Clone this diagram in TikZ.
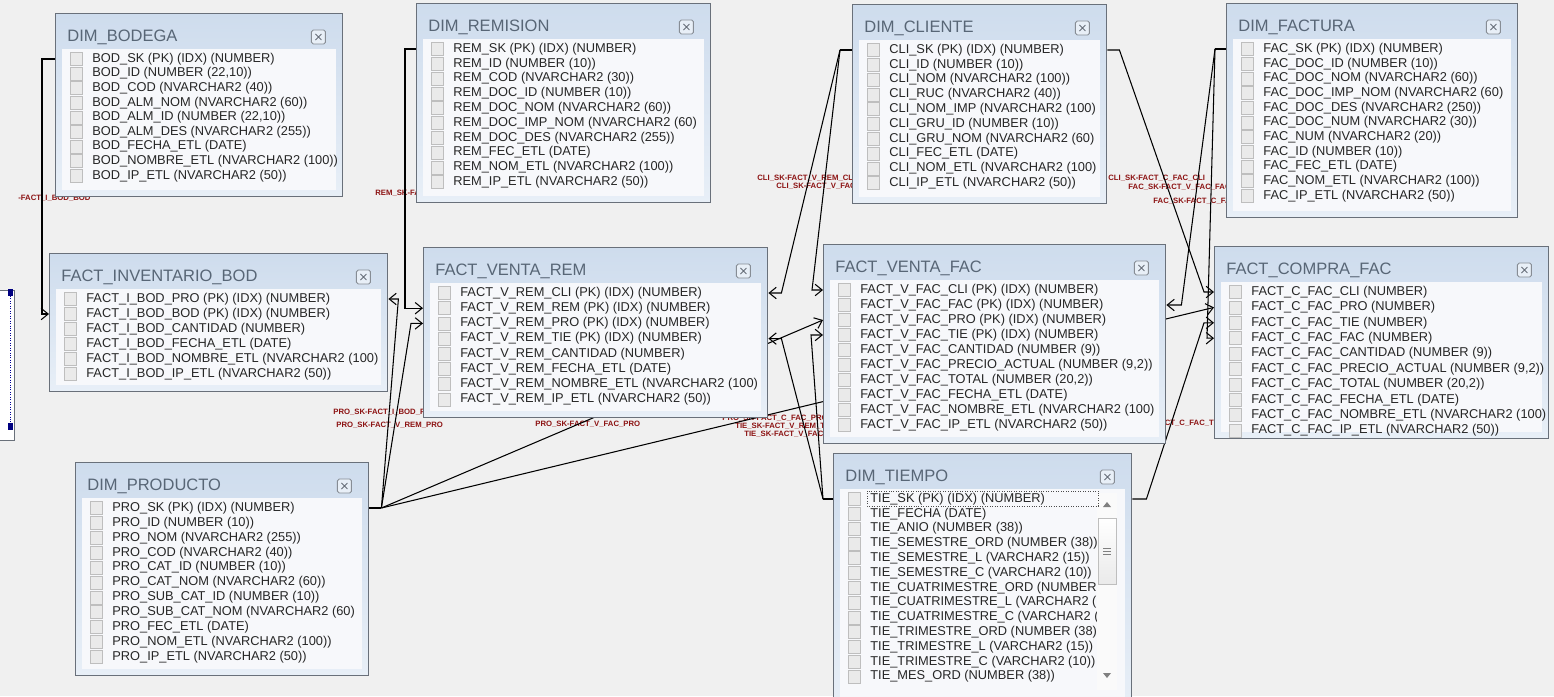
\documentclass[tikz,border=0pt]{standalone}
\usepackage{fontspec}
\setmainfont{Liberation Sans}
\usetikzlibrary{arrows.meta, calc}

\definecolor{bgclr}{RGB}{240,240,240}
\definecolor{frameclr}{RGB}{105,112,122}
\definecolor{headtop}{RGB}{206,220,237}
\definecolor{headbot}{RGB}{232,239,247}
\definecolor{panelclr}{RGB}{247,248,251}
\definecolor{titleclr}{RGB}{88,102,118}
\definecolor{chkfill}{RGB}{234,234,234}
\definecolor{chkline}{RGB}{190,190,190}
\definecolor{fkred}{RGB}{140,18,18}

\pgfdeclarelayer{bottom}
\pgfdeclarelayer{background}
\pgfsetlayers{bottom,background,main}

\tikzset{
  erframe/.style={draw=frameclr, line width=0.8pt, top color=headtop, bottom color=headbot,
    anchor=north west, inner sep=0pt},
  ertitle/.style={anchor=west, inner sep=0pt, font=\fontsize{9.4}{10}\selectfont, text=titleclr},
  errow/.style={anchor=west, inner sep=0pt, font=\fontsize{7.3}{8}\selectfont, text=black!85},
  chk/.style={draw=chkline, fill=chkfill, line width=0.4pt},
  closeicon/.style={draw=frameclr!80, fill=headbot, line width=0.5pt, rounded corners=1pt},
  fk/.style={draw=black, line width=0.6pt, -{Straight Barb[length=4pt,width=6.5pt]}},
  fkline/.style={draw=black, line width=0.6pt},
  fklabel/.style={anchor=west, inner sep=0pt, font=\fontsize{4.4}{5}\selectfont\bfseries, text=fkred},
}

% table box: name, x, y, width, height, row step, title, rows
\newcommand{\ertable}[8]{%
  \node[erframe, minimum width=#4*0.02cm, minimum height=#5*0.02cm] (#1) at (#2,#3) {};
  \fill[panelclr] ($(#1.north west)+(7,36)$) rectangle ($(#1.south east)+(-7,-7)$);
  \node[ertitle] (#1-t) at ($(#1.north west)+(12,24)$) {#7};
  \draw[closeicon] ($(#1.north east)+(-32,17)$) rectangle ++(14,14);
  \draw[frameclr, line width=0.5pt] ($(#1.north east)+(-28,21)$) -- ++(6,6)
    ($(#1.north east)+(-22,21)$) -- ++(-6,6);
  \foreach \txt [count=\i] in {#8} {
    \pgfmathsetmacro\ry{46+#6*(\i-1)}
    \pgfmathsetmacro\cy{\ry-6.5}
    \draw[chk] ($(#1.north west)+(15,\cy)$) rectangle ++(12,13);
    \node[errow] (#1-\i) at ($(#1.north west)+(37,\ry)$) {\txt};
  }
}

\begin{document}
\begin{tikzpicture}[x=0.02cm, y=-0.02cm]
  \useasboundingbox (0,0) rectangle (1554,696);
  \clip (0,0) rectangle (1554,696);
  \begin{pgfonlayer}{bottom}
    \fill[bgclr] (0,0) rectangle (1554,696);
  \end{pgfonlayer}

  % dimension tables
  \ertable{bod}{55}{13}{287}{183}{14.6}{DIM\_BODEGA}{%
    {BOD\_SK (PK) (IDX) (NUMBER)},{BOD\_ID (NUMBER (22,10))},{BOD\_COD (NVARCHAR2 (40))},
    {BOD\_ALM\_NOM (NVARCHAR2 (60))},{BOD\_ALM\_ID (NUMBER (22,10))},{BOD\_ALM\_DES (NVARCHAR2 (255))},
    {BOD\_FECHA\_ETL (DATE)},{BOD\_NOMBRE\_ETL (NVARCHAR2 (100))},{BOD\_IP\_ETL (NVARCHAR2 (50))}}
  \ertable{rem}{416}{3}{294}{199}{14.8}{DIM\_REMISION}{%
    {REM\_SK (PK) (IDX) (NUMBER)},{REM\_ID (NUMBER (10))},{REM\_COD (NVARCHAR2 (30))},
    {REM\_DOC\_ID (NUMBER (10))},{REM\_DOC\_NOM (NVARCHAR2 (60))},{REM\_DOC\_IMP\_NOM (NVARCHAR2 (60)},
    {REM\_DOC\_DES (NVARCHAR2 (255))},{REM\_FEC\_ETL (DATE)},{REM\_NOM\_ETL (NVARCHAR2 (100))},
    {REM\_IP\_ETL (NVARCHAR2 (50))}}
  \ertable{cli}{852}{4}{254}{199}{14.8}{DIM\_CLIENTE}{%
    {CLI\_SK (PK) (IDX) (NUMBER)},{CLI\_ID (NUMBER (10))},{CLI\_NOM (NVARCHAR2 (100))},
    {CLI\_RUC (NVARCHAR2 (40))},{CLI\_NOM\_IMP (NVARCHAR2 (100)},{CLI\_GRU\_ID (NUMBER (10))},
    {CLI\_GRU\_NOM (NVARCHAR2 (60)},{CLI\_FEC\_ETL (DATE)},{CLI\_NOM\_ETL (NVARCHAR2 (100)},
    {CLI\_IP\_ETL (NVARCHAR2 (50))}}
  \ertable{fac}{1226}{3}{291}{214}{14.7}{DIM\_FACTURA}{%
    {FAC\_SK (PK) (IDX) (NUMBER)},{FAC\_DOC\_ID (NUMBER (10))},{FAC\_DOC\_NOM (NVARCHAR2 (60))},
    {FAC\_DOC\_IMP\_NOM (NVARCHAR2 (60)},{FAC\_DOC\_DES (NVARCHAR2 (250))},{FAC\_DOC\_NUM (NVARCHAR2 (30))},
    {FAC\_NUM (NVARCHAR2 (20))},{FAC\_ID (NUMBER (10))},{FAC\_FEC\_ETL (DATE)},
    {FAC\_NOM\_ETL (NVARCHAR2 (100))},{FAC\_IP\_ETL (NVARCHAR2 (50))}}
  \ertable{pro}{75}{462}{293}{213}{14.9}{DIM\_PRODUCTO}{%
    {PRO\_SK (PK) (IDX) (NUMBER)},{PRO\_ID (NUMBER (10))},{PRO\_NOM (NVARCHAR2 (255))},
    {PRO\_COD (NVARCHAR2 (40))},{PRO\_CAT\_ID (NUMBER (10))},{PRO\_CAT\_NOM (NVARCHAR2 (60))},
    {PRO\_SUB\_CAT\_ID (NUMBER (10))},{PRO\_SUB\_CAT\_NOM (NVARCHAR2 (60)},{PRO\_FEC\_ETL (DATE)},
    {PRO\_NOM\_ETL (NVARCHAR2 (100))},{PRO\_IP\_ETL (NVARCHAR2 (50))}}
  \ertable{tie}{833}{453}{298}{260}{14.8}{DIM\_TIEMPO}{%
    {TIE\_SK (PK) (IDX) (NUMBER)},{TIE\_FECHA (DATE)},{TIE\_ANIO (NUMBER (38))},
    {TIE\_SEMESTRE\_ORD (NUMBER (38))},{TIE\_SEMESTRE\_L (VARCHAR2 (15))},{TIE\_SEMESTRE\_C (VARCHAR2 (10))},
    {TIE\_CUATRIMESTRE\_ORD (NUMBER},{TIE\_CUATRIMESTRE\_L (VARCHAR2 (},{TIE\_CUATRIMESTRE\_C (VARCHAR2 (},
    {TIE\_TRIMESTRE\_ORD (NUMBER (38)},{TIE\_TRIMESTRE\_L (VARCHAR2 (15))},{TIE\_TRIMESTRE\_C (VARCHAR2 (10))},
    {TIE\_MES\_ORD (NUMBER (38))}}

  % fact tables
  \ertable{finv}{49}{253}{338}{138}{15}{FACT\_INVENTARIO\_BOD}{%
    {FACT\_I\_BOD\_PRO (PK) (IDX) (NUMBER)},{FACT\_I\_BOD\_BOD (PK) (IDX) (NUMBER)},
    {FACT\_I\_BOD\_CANTIDAD (NUMBER)},{FACT\_I\_BOD\_FECHA\_ETL (DATE)},
    {FACT\_I\_BOD\_NOMBRE\_ETL (NVARCHAR2 (100)},{FACT\_I\_BOD\_IP\_ETL (NVARCHAR2 (50))}}
  \ertable{vrem}{423}{247}{344}{170}{15.2}{FACT\_VENTA\_REM}{%
    {FACT\_V\_REM\_CLI (PK) (IDX) (NUMBER)},{FACT\_V\_REM\_REM (PK) (IDX) (NUMBER)},
    {FACT\_V\_REM\_PRO (PK) (IDX) (NUMBER)},{FACT\_V\_REM\_TIE (PK) (IDX) (NUMBER)},
    {FACT\_V\_REM\_CANTIDAD (NUMBER)},{FACT\_V\_REM\_FECHA\_ETL (DATE)},
    {FACT\_V\_REM\_NOMBRE\_ETL (NVARCHAR2 (100)},{FACT\_V\_REM\_IP\_ETL (NVARCHAR2 (50))}}
  \ertable{vfac}{823}{244}{342}{199}{15}{FACT\_VENTA\_FAC}{%
    {FACT\_V\_FAC\_CLI (PK) (IDX) (NUMBER)},{FACT\_V\_FAC\_FAC (PK) (IDX) (NUMBER)},
    {FACT\_V\_FAC\_PRO (PK) (IDX) (NUMBER)},{FACT\_V\_FAC\_TIE (PK) (IDX) (NUMBER)},
    {FACT\_V\_FAC\_CANTIDAD (NUMBER (9))},{FACT\_V\_FAC\_PRECIO\_ACTUAL (NUMBER (9,2))},
    {FACT\_V\_FAC\_TOTAL (NUMBER (20,2))},{FACT\_V\_FAC\_FECHA\_ETL (DATE)},
    {FACT\_V\_FAC\_NOMBRE\_ETL (NVARCHAR2 (100)},{FACT\_V\_FAC\_IP\_ETL (NVARCHAR2 (50))}}
  \ertable{cfac}{1214}{246}{334}{192}{15.4}{FACT\_COMPRA\_FAC}{%
    {FACT\_C\_FAC\_CLI (NUMBER)},{FACT\_C\_FAC\_PRO (NUMBER)},{FACT\_C\_FAC\_TIE (NUMBER)},
    {FACT\_C\_FAC\_FAC (NUMBER)},{FACT\_C\_FAC\_CANTIDAD (NUMBER (9))},
    {FACT\_C\_FAC\_PRECIO\_ACTUAL (NUMBER (9,2))},{FACT\_C\_FAC\_TOTAL (NUMBER (20,2))},
    {FACT\_C\_FAC\_FECHA\_ETL (DATE)},{FACT\_C\_FAC\_NOMBRE\_ETL (NVARCHAR2 (100)},
    {FACT\_C\_FAC\_IP\_ETL (NVARCHAR2 (50))}}

  % scroll bar and focus of DIM_TIEMPO
  \fill[white!96!gray] (1097,493) rectangle (1117,690);
  \draw[chkline, top color=white, bottom color=chkfill] (1098,518) rectangle (1116,584);
  \draw[gray, line width=0.5pt] (1103,548) -- (1111,548) (1103,551) -- (1111,551) (1103,554) -- (1111,554);
  \fill[gray] (1103,507) -- (1111,507) -- (1107,502) -- cycle;
  \fill[gray] (1103,673) -- (1111,673) -- (1107,678) -- cycle;
  \draw[densely dotted, black!70] ($(tie-1.west)+(-3,-8)$) rectangle ($(tie-1.west)+(228,7)$);

  % partly hidden object at the left border
  \draw[frameclr, fill=white] (-5,290) rectangle (14,440);
  \draw[densely dotted, blue!60!black] (10,296) -- (10,430);
  \fill[blue!50!black] (8,289) rectangle (13,296);
  \fill[blue!50!black] (8,423) rectangle (13,430);

  \begin{pgfonlayer}{background}
    % relation labels
    \node[fklabel] (lb-bod) at (18,198) {-FACT\_I\_BOD\_BOD};
    \node[fklabel] (lb-rem) at (375,193) {REM\_SK-FACT\_V\_REM\_REM};
    \node[fklabel] (lb-cli1) at (757,178) {CLI\_SK-FACT\_V\_REM\_CLI};
    \node[fklabel] (lb-cli2) at (776,186) {CLI\_SK-FACT\_V\_FAC\_CLI};
    \node[fklabel] (lb-cli3) at (1108,178) {CLI\_SK-FACT\_C\_FAC\_CLI};
    \node[fklabel] (lb-fac1) at (1128,187) {FAC\_SK-FACT\_V\_FAC\_FAC};
    \node[fklabel] (lb-fac2) at (1153,201) {FAC\_SK-FACT\_C\_FAC\_FAC};
    \node[fklabel] (lb-pro1) at (333,412) {PRO\_SK-FACT\_I\_BOD\_PRO};
    \node[fklabel] (lb-pro2) at (336,425) {PRO\_SK-FACT\_V\_REM\_PRO};
    \node[fklabel] (lb-pro3) at (535,424) {PRO\_SK-FACT\_V\_FAC\_PRO};
    \node[fklabel] (lb-pro4) at (722,418) {PRO\_SK-FACT\_C\_FAC\_PRO};
    \node[fklabel] (lb-tie1) at (735,426) {TIE\_SK-FACT\_V\_REM\_TIE};
    \node[fklabel] (lb-tie2) at (744,434) {TIE\_SK-FACT\_V\_FAC\_TIE};
    \node[fklabel] (lb-tie3) at (1125,423) {TIE\_SK-FACT\_C\_FAC\_TIE};

    % relations
    \draw[fk] (bod.west |- bod-1) -- ++(-13,0) |- (finv.west |- finv-2);
    \draw[fk] (rem.west |- rem-1) -- ++(-11,0) |- (vrem.west |- vrem-2);

    \coordinate (pfan) at ($(pro.east |- pro-1)+(12,0)$);
    \draw[fkline] (pro.east |- pro-1) -- (pfan);
    \draw[fk] (pfan) -- ($(finv.east |- finv-1)+(10,0)$) -- (finv.east |- finv-1);
    \draw[fk] (pfan) -- ($(vrem.west |- vrem-3)+(-12,0)$) -- (vrem.west |- vrem-3);
    \draw[fk] (pfan) -- (vfac.west |- vfac-3);
    \draw[fk] (pfan) -- (cfac.west |- cfac-2);

    \coordinate (cfan) at ($(cli.west |- cli-1)+(-12,0)$);
    \draw[fkline] (cli.west |- cli-1) -- (cfan);
    \draw[fk] (cfan) -- ($(vrem.east |- vrem-1)+(13,0)$) -- (vrem.east |- vrem-1);
    \draw[fk] (cfan) -- ($(vfac.west |- vfac-1)+(-11,0)$) -- (vfac.west |- vfac-1);
    \draw[fk] (cli.east |- cli-1) -- ++(12,0) -- ($(cfac.west |- cfac-1)+(-10,0)$) -- (cfac.west |- cfac-1);

    \coordinate (ffan) at ($(fac.west |- fac-1)+(-11,0)$);
    \draw[fkline] (fac.west |- fac-1) -- (ffan);
    \draw[fk] (ffan) -- ($(vfac.east |- vfac-2)+(15,0)$) -- (vfac.east |- vfac-2);
    \draw[fk] (ffan) -- ($(cfac.west |- cfac-4)+(-7,0)$) -- (cfac.west |- cfac-4);

    \coordinate (tfan) at ($(tie.west |- tie-1)+(-10,0)$);
    \draw[fkline] (tie.west |- tie-1) -- (tfan);
    \draw[fk] (tfan) -- ($(vrem.east |- vrem-4)+(13,0)$) -- (vrem.east |- vrem-4);
    \draw[fk] (tfan) -- ($(vfac.west |- vfac-4)+(-12,0)$) -- (vfac.west |- vfac-4);
    \draw[fk] (tie.east |- tie-1) -- ++(14,0) -- ($(cfac.west |- cfac-3)+(-10,0)$) -- (cfac.west |- cfac-3);
  \end{pgfonlayer}
\end{tikzpicture}
\end{document}
